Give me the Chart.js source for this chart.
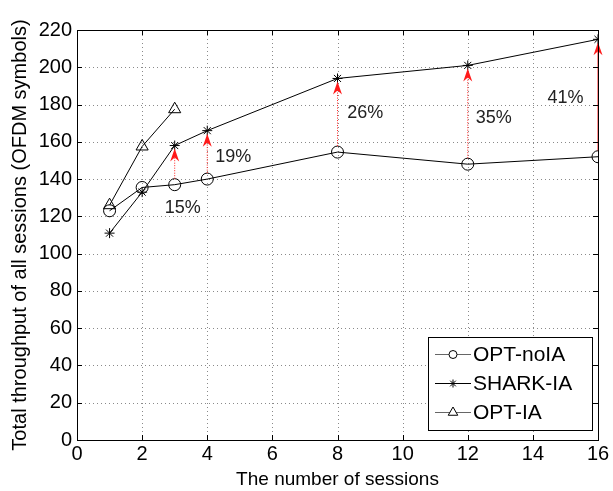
<!DOCTYPE html>
<html>
<head>
<meta charset="utf-8">
<script src="https://cdn.jsdelivr.net/npm/chart.js@4.4.1/dist/chart.umd.min.js"></script>
<style>
  html, body { margin: 0; padding: 0; background: #fff; }
  #wrap { width: 613px; height: 491px; position: relative; }
</style>
</head>
<body>
<div id="wrap"><canvas id="chart"></canvas></div>
<script>
// Values.
const sessions = [1, 2, 3, 4, 8, 12, 16];
const optNoIA = [123, 135.5, 137, 140, 154.5, 148, 152];
const sharkIA = [111, 133, 158, 166, 194, 201, 215];
const optIASessions = [1, 2, 3];
const optIA = [126, 157.5, 177.5];

// Gain annotations: arrow at a session count, label text and label anchor (data units).
const gainSessions = [3, 4, 8, 12, 16];
const gainLabels = ["15%", "19%", "26%", "35%", "41%"];
const gainLabelX = [3.25, 4.8, 8.85, 12.8, 15.0];
const gainLabelY = [124.5, 152, 175.5, 173, 183.5];

const xTicks = [0, 2, 4, 6, 8, 10, 12, 14, 16];
const yTicks = [0, 20, 40, 60, 80, 100, 120, 140, 160, 180, 200, 220];

const FONT = "'Liberation Sans', Arial, sans-serif";

const pts = (xs, ys) => xs.map((x, i) => ({ x: x, y: ys[i] }));

// Dotted MATLAB-style grid, drawn under the lines.
const dotGrid = {
    id: "dotGrid",
    beforeDatasetsDraw(chart) {
        const { ctx, chartArea: a, scales: { x, y } } = chart;
        ctx.save();
        ctx.strokeStyle = "#8a8a8a";
        ctx.lineWidth = 1;
        ctx.setLineDash([1, 3]);
        ctx.beginPath();
        xTicks.slice(1, -1).forEach((t) => {
            const px = Math.round(x.getPixelForValue(t)) + 0.5;
            ctx.moveTo(px, a.bottom); ctx.lineTo(px, a.top);
        });
        yTicks.slice(1, -1).forEach((t) => {
            const py = Math.round(y.getPixelForValue(t)) + 0.5;
            ctx.moveTo(a.left, py); ctx.lineTo(a.right, py);
        });
        ctx.stroke();
        ctx.restore();
    },
};

// Red dotted arrows from OPT-noIA up to SHARK-IA, plus percentage labels.
const gainArrows = {
    id: "gainArrows",
    afterDatasetsDraw(chart) {
        const { ctx, scales: { x, y } } = chart;
        ctx.save();
        gainSessions.forEach((s, i) => {
            const k = sessions.indexOf(s);
            const px = x.getPixelForValue(s);
            const y0 = y.getPixelForValue(optNoIA[k]) - 6;
            const y1 = y.getPixelForValue(sharkIA[k]) + 3;
            ctx.strokeStyle = "#ff2020";
            ctx.lineWidth = 1;
            ctx.setLineDash(s === 16 ? [] : [1, 1.5]);
            ctx.beginPath();
            ctx.moveTo(px, y0);
            ctx.lineTo(px, y1 + 8);
            ctx.stroke();
            ctx.setLineDash([]);
            ctx.fillStyle = "#ff1a1a";
            ctx.beginPath();
            ctx.moveTo(px, y1);
            ctx.lineTo(px + 4.5, y1 + 13);
            ctx.lineTo(px, y1 + 9);
            ctx.lineTo(px - 4.5, y1 + 13);
            ctx.closePath();
            ctx.fill();

            ctx.fillStyle = "#222";
            ctx.font = "18px " + FONT;
            ctx.textAlign = "center";
            ctx.textBaseline = "middle";
            ctx.fillText(gainLabels[i], x.getPixelForValue(gainLabelX[i]), y.getPixelForValue(gainLabelY[i]));
        });
        ctx.restore();
    },
};

// MATLAB-style box: frame on all four sides with inward ticks.
const frameBox = {
    id: "frameBox",
    afterDraw(chart) {
        const { ctx, chartArea: a, scales: { x, y } } = chart;
        ctx.save();
        ctx.strokeStyle = "#000";
        ctx.lineWidth = 1;
        ctx.strokeRect(a.left + 0.5, a.top + 0.5, a.right - a.left, a.bottom - a.top);
        ctx.beginPath();
        xTicks.forEach((t) => {
            const px = Math.round(x.getPixelForValue(t)) + 0.5;
            ctx.moveTo(px, a.bottom); ctx.lineTo(px, a.bottom - 5);
            ctx.moveTo(px, a.top); ctx.lineTo(px, a.top + 5);
        });
        yTicks.forEach((t) => {
            const py = Math.round(y.getPixelForValue(t)) + 0.5;
            ctx.moveTo(a.left, py); ctx.lineTo(a.left + 5, py);
            ctx.moveTo(a.right, py); ctx.lineTo(a.right - 5, py);
        });
        ctx.stroke();
        ctx.restore();
    },
};

// Legend drawn inside the lower-right corner of the plot.
const boxLegend = {
    id: "boxLegend",
    afterDraw(chart) {
        const { ctx } = chart;
        const left = 428, top = 337, w = 164, h = 93;
        ctx.save();
        ctx.fillStyle = "#fff";
        ctx.fillRect(left, top, w, h);
        ctx.strokeStyle = "#000";
        ctx.lineWidth = 1;
        ctx.strokeRect(left + 0.5, top + 0.5, w, h);
        chart.data.datasets.forEach((ds, i) => {
            const cy = top + 17.5 + i * 29;
            ctx.strokeStyle = ds.legendLine;
            ctx.beginPath();
            ctx.moveTo(left + 7, cy);
            ctx.lineTo(left + 43, cy);
            ctx.stroke();
            ctx.strokeStyle = "#000";
            ctx.fillStyle = "#fff";
            Chart.helpers.drawPoint(ctx, {
                pointStyle: ds.pointStyle, radius: ds.legendRadius, rotation: 0, borderWidth: 1,
            }, left + 25, cy);
            ctx.fillStyle = "#000";
            ctx.font = "21px " + FONT;
            ctx.textAlign = "left";
            ctx.textBaseline = "middle";
            ctx.fillText(ds.label, left + 45, cy + 1);
        });
        ctx.restore();
    },
};

const lineStyle = {
    borderColor: "#000",
    backgroundColor: "rgba(0,0,0,0)",
    pointBorderColor: "#000",
    pointBackgroundColor: "rgba(0,0,0,0)",
    borderWidth: 1,
    pointBorderWidth: 1,
    tension: 0,
    fill: false,
};

new Chart(document.getElementById("chart"), {
    type: "line",
    data: {
        datasets: [
            { ...lineStyle, label: "OPT-noIA", data: pts(sessions, optNoIA), pointStyle: "circle", pointRadius: 6, legendRadius: 4, legendLine: "#666" },
            { ...lineStyle, label: "SHARK-IA", data: pts(sessions, sharkIA), pointStyle: "star", pointRadius: 5, legendRadius: 4, legendLine: "#000" },
            { ...lineStyle, label: "OPT-IA", data: pts(optIASessions, optIA), pointStyle: "triangle", pointRadius: 7, legendRadius: 5.5, legendLine: "#666" },
        ],
    },
    options: {
        responsive: true,
        maintainAspectRatio: false,
        animation: false,
        events: [],
        layout: { padding: { top: 30, right: 15, left: 0, bottom: 0 } },
        plugins: { legend: { display: false }, tooltip: { enabled: false } },
        scales: {
            x: {
                type: "linear",
                min: 0, max: 16,
                afterBuildTicks: (s) => { s.ticks = xTicks.map((v) => ({ value: v })); },
                afterFit: (s) => { s.height = 51; },
                border: { display: false },
                grid: { display: false, drawTicks: false, tickLength: 0 },
                ticks: { color: "#000", font: { size: 20, family: FONT }, padding: 2, maxRotation: 0 },
                title: { display: true, text: "The number of sessions", color: "#000", font: { size: 19, family: FONT }, padding: { top: 0, bottom: 0 } },
            },
            y: {
                min: 0, max: 220,
                afterBuildTicks: (s) => { s.ticks = yTicks.map((v) => ({ value: v })); },
                afterFit: (s) => { s.width = 77; },
                border: { display: false },
                grid: { display: false, drawTicks: false, tickLength: 0 },
                ticks: { color: "#000", font: { size: 20, family: FONT }, padding: 5 },
                title: { display: true, text: "Total throughput of all sessions (OFDM symbols)", color: "#000", font: { size: 20, family: FONT }, padding: { top: 8, bottom: 0 } },
            },
        },
    },
    plugins: [dotGrid, gainArrows, frameBox, boxLegend],
});
</script>
</body>
</html>
